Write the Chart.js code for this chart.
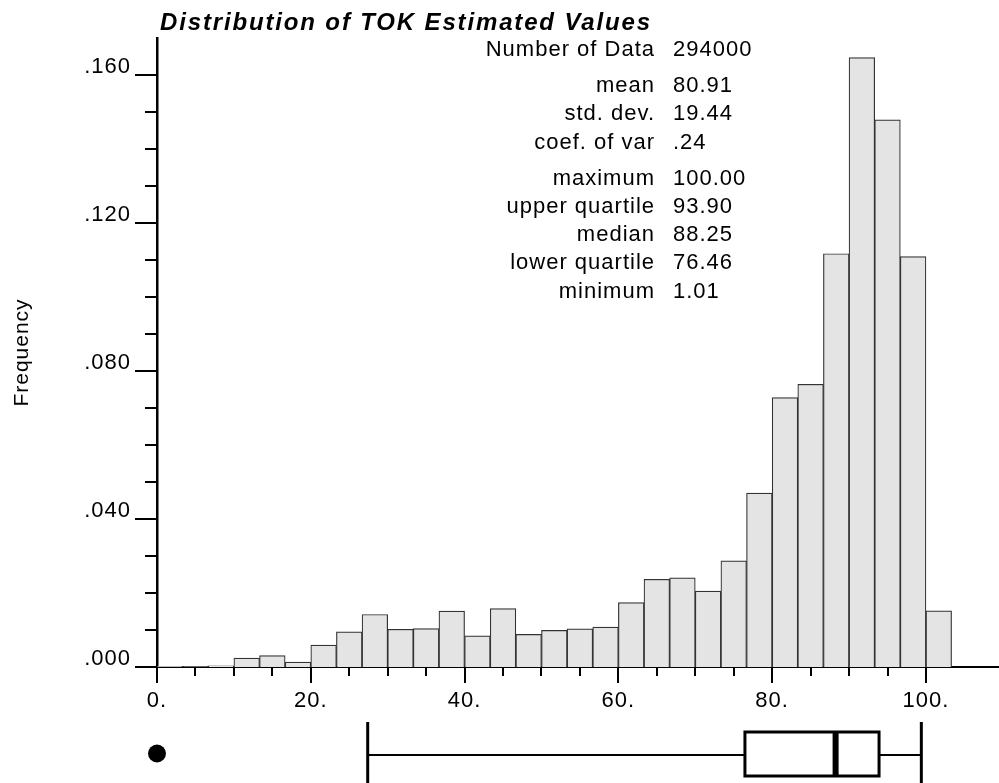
<!DOCTYPE html>
<html>
<head>
<meta charset="utf-8">
<title>Distribution of TOK Estimated Values</title>
<script src="https://cdn.jsdelivr.net/npm/chart.js@4.4.1/dist/chart.umd.min.js"></script>
<style>
  html, body { margin: 0; padding: 0; background: #fff; }
  #wrap { width: 999px; height: 783px; }
</style>
</head>
<body>
<div id="wrap"><canvas id="histTOK"></canvas></div>
<script>
// histogram bins (width 3.333), centre of each bin
const binCenters = [
  1.667, 5.0, 8.333, 11.667, 15.0, 18.333, 21.667, 25.0, 28.333, 31.667,
  35.0, 38.333, 41.667, 45.0, 48.333, 51.667, 55.0, 58.333, 61.667, 65.0,
  68.333, 71.667, 75.0, 78.333, 81.667, 85.0, 88.333, 91.667, 95.0, 98.333,
  101.667
];
const frequencies = [
  0.0002, 0.0001, 0.0003, 0.0024, 0.0031, 0.0013, 0.0059, 0.0095, 0.0142, 0.0102,
  0.0104, 0.0151, 0.0084, 0.0158, 0.0088, 0.0099, 0.0103, 0.0108, 0.0174, 0.0237,
  0.0241, 0.0205, 0.0287, 0.0470, 0.0728, 0.0764, 0.1117, 0.1647, 0.1479, 0.1109,
  0.0152
];

const xLabelValues = [0, 20, 40, 60, 80, 100];
const yLabelValues = [0, 0.04, 0.08, 0.12, 0.16];

const statLabels = ['Number of Data', 'mean', 'std. dev.', 'coef. of var',
  'maximum', 'upper quartile', 'median', 'lower quartile', 'minimum'];
const statValues = ['294000', '80.91', '19.44', '.24',
  '100.00', '93.90', '88.25', '76.46', '1.01'];
const statGroups = [1, 3, 5];

// low whisker, lower quartile, median, upper quartile, high whisker
const boxValues = [27.4, 76.46, 88.25, 93.90, 99.4];
const dotValue = 0;

const FONT = "'Liberation Sans', Arial, Helvetica, sans-serif";

function isLabelX(v) { return xLabelValues.some(l => Math.abs(l - v) < 1e-6); }
function isLabelY(v) { return yLabelValues.some(l => Math.abs(l - v) < 1e-6); }

function line(ctx, x1, y1, x2, y2) {
  ctx.beginPath();
  ctx.moveTo(x1, y1);
  ctx.lineTo(x2, y2);
  ctx.stroke();
}

const spacing = {
  id: 'spacing',
  beforeUpdate(chart) { chart.ctx.letterSpacing = '1px'; },
  beforeDraw(chart) { chart.ctx.letterSpacing = '1px'; }
};

// major/minor tick marks on both axes
const tickMarks = {
  id: 'tickMarks',
  afterDraw(chart) {
    const { ctx, chartArea: a, scales: { x, y } } = chart;
    ctx.save();
    ctx.strokeStyle = '#000';
    ctx.lineWidth = 2;
    y.ticks.forEach(t => {
      if (t.value > 0.1605) return;
      const py = Math.round(y.getPixelForValue(t.value));
      const len = isLabelY(t.value) ? 22 : 12;
      line(ctx, a.left - len, py, a.left, py);
    });
    x.ticks.forEach(t => {
      if (t.value > 105.01 || Math.abs(t.value / 5 - Math.round(t.value / 5)) > 1e-6) return;
      const px = Math.round(x.getPixelForValue(t.value));
      const len = isLabelX(t.value) ? 16 : 9;
      line(ctx, px, a.bottom, px, a.bottom + len);
    });
    ctx.restore();
  }
};

// box plot under the x axis
const boxPlot = {
  id: 'boxPlot',
  afterDraw(chart) {
    const { ctx, chartArea: a, scales: { x } } = chart;
    const [lo, q1, med, q3, hi] = boxValues.map(v => x.getPixelForValue(v));
    const mid = a.bottom + 88;
    const top = a.bottom + 65, bot = a.bottom + 109;
    ctx.save();
    ctx.strokeStyle = '#000';
    ctx.lineWidth = 2;
    line(ctx, lo, mid, q1, mid);
    line(ctx, q3, mid, hi, mid);
    ctx.lineWidth = 3;
    line(ctx, lo, a.bottom + 55, lo, chart.height);
    line(ctx, hi, a.bottom + 55, hi, chart.height);
    ctx.fillStyle = '#fff';
    ctx.fillRect(q1, top, q3 - q1, bot - top);
    ctx.strokeRect(q1, top, q3 - q1, bot - top);
    ctx.lineWidth = 6;
    line(ctx, med, top, med, bot);
    ctx.fillStyle = '#000';
    ctx.beginPath();
    ctx.arc(x.getPixelForValue(dotValue), mid - 1.5, 9, 0, Math.PI * 2);
    ctx.fill();
    ctx.restore();
  }
};

// title and summary statistics
const header = {
  id: 'header',
  afterDraw(chart) {
    const ctx = chart.ctx;
    ctx.save();
    ctx.fillStyle = '#000';
    ctx.letterSpacing = '1.85px';
    ctx.font = 'italic bold 24px ' + FONT;
    ctx.textBaseline = 'alphabetic';
    ctx.textAlign = 'left';
    ctx.fillText('Distribution of TOK Estimated Values', 160, 30);

    ctx.letterSpacing = '1px';
    ctx.font = '22px ' + FONT;
    ctx.textBaseline = 'middle';
    let row = 0, yy = 50;
    statGroups.forEach((n, g) => {
      if (g > 0) yy += 8;
      for (let i = 0; i < n; i++, row++) {
        ctx.textAlign = 'right';
        ctx.fillText(statLabels[row], 655, yy);
        ctx.textAlign = 'left';
        ctx.fillText(statValues[row], 673, yy);
        yy += 28.2;
      }
    });
    ctx.restore();
  }
};

new Chart(document.getElementById('histTOK'), {
  type: 'bar',
  data: {
    datasets: [{
      data: binCenters.map((c, i) => ({ x: c, y: frequencies[i] })),
      backgroundColor: '#e4e4e4',
      borderColor: '#333',
      borderWidth: 1.2,
      barPercentage: 1,
      categoryPercentage: 1
    }]
  },
  options: {
    responsive: true,
    maintainAspectRatio: false,
    animation: false,
    layout: { padding: { top: 38, left: 10, right: 0, bottom: 0 } },
    plugins: { legend: { display: false }, tooltip: { enabled: false } },
    scales: {
      x: {
        type: 'linear',
        min: 0,
        max: 109.5,
        offset: false,
        grid: { display: false, drawTicks: false },
        border: { display: true, color: '#000', width: 2 },
        afterFit(s) { s.height = 116; s.paddingLeft = 0; s.paddingRight = 0; },
        ticks: {
          stepSize: 5,
          autoSkip: false,
          maxRotation: 0,
          padding: 21,
          color: '#000',
          font: { family: FONT, size: 22 },
          callback: v => isLabelX(v) ? (v === 0 ? '0.' : v + '.') : ''
        }
      },
      y: {
        min: 0,
        max: 0.17,
        grid: { display: false, drawTicks: false },
        border: { display: true, color: '#000', width: 2.5 },
        afterFit(s) { s.width = 147; s.paddingTop = 0; s.paddingBottom = 0; },
        title: {
          display: true,
          text: 'Frequency',
          color: '#000',
          padding: 0,
          font: { family: FONT, size: 21 }
        },
        ticks: {
          stepSize: 0.01,
          autoSkip: false,
          padding: 26,
          labelOffset: -8,
          color: '#000',
          font: { family: FONT, size: 22 },
          callback: v => isLabelY(v) ? '.' + String(Math.round(v * 1000)).padStart(3, '0') : ''
        }
      }
    }
  },
  plugins: [spacing, tickMarks, boxPlot, header]
});
</script>
</body>
</html>
